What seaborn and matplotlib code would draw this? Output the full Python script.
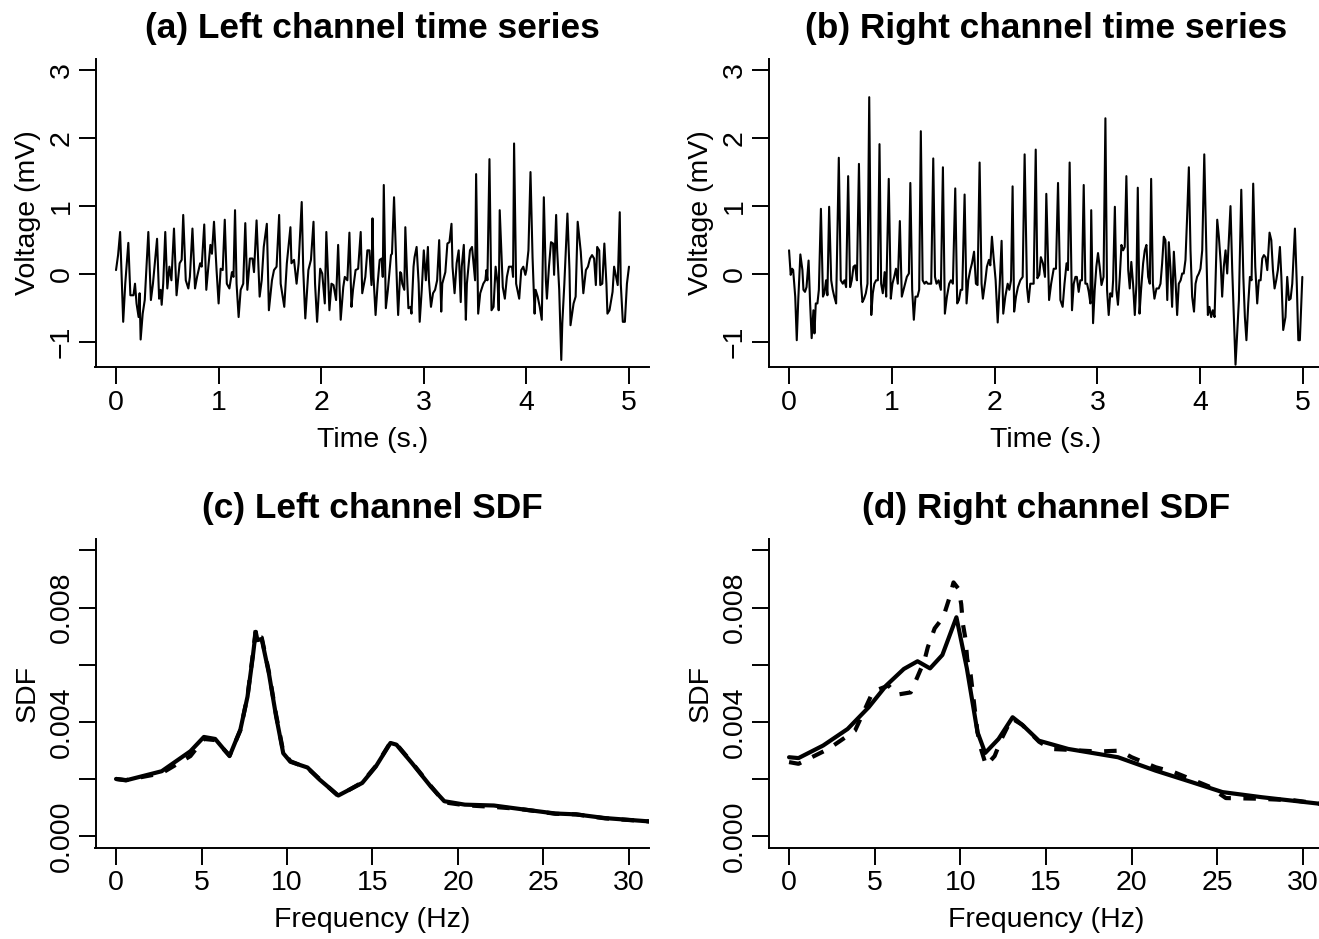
import matplotlib
matplotlib.use("Agg")
import matplotlib.pyplot as plt
import numpy as np
import pandas as pd
import seaborn as sns

# ---------------- data ----------------
# (a) left channel time series: (time s, voltage mV)
left_trace = [
    (0.00, 0.06), (0.02, 0.28), (0.04, 0.62), (0.07, -0.70), (0.09, -0.14), (0.12, 0.46),
    (0.14, -0.31), (0.17, -0.31), (0.185, -0.14), (0.20, -0.43), (0.22, -0.63), (0.23, -0.28),
    (0.24, -0.96), (0.26, -0.58), (0.28, -0.38), (0.315, 0.62), (0.34, -0.38), (0.36, -0.14),
    (0.40, 0.52), (0.42, -0.36), (0.435, -0.23), (0.445, -0.45), (0.46, -0.14), (0.48, 0.62),
    (0.50, -0.21), (0.52, 0.11), (0.54, -0.09), (0.565, 0.67), (0.59, -0.31), (0.62, 0.16),
    (0.64, 0.21), (0.655, 0.87), (0.68, -0.09), (0.705, -0.21), (0.72, -0.04), (0.745, 0.67),
    (0.77, -0.21), (0.79, -0.04), (0.82, 0.16), (0.835, 0.11), (0.86, 0.73), (0.88, -0.23),
    (0.90, 0.11), (0.92, 0.43), (0.935, 0.30), (0.955, 0.77), (0.98, 0.06), (1.00, -0.43),
    (1.02, 0.08), (1.04, 0.06), (1.06, 0.80), (1.08, -0.14), (1.105, -0.21), (1.13, 0.03),
    (1.145, -0.04), (1.16, 0.94), (1.175, -0.14), (1.195, -0.63), (1.215, -0.23), (1.24, -0.14),
    (1.26, 0.75), (1.28, -0.23), (1.305, 0.23), (1.33, 0.23), (1.345, 0.03), (1.37, 0.79),
    (1.40, -0.33), (1.42, -0.09), (1.44, 0.40), (1.47, 0.74), (1.49, -0.53), (1.52, -0.09),
    (1.54, 0.06), (1.565, 0.11), (1.59, 0.87), (1.605, -0.14), (1.625, -0.33), (1.64, -0.48),
    (1.665, 0.16), (1.70, 0.69), (1.71, 0.16), (1.735, 0.21), (1.76, -0.14), (1.78, 0.16),
    (1.81, 1.06), (1.825, 0.06), (1.845, -0.65), (1.875, 0.06), (1.90, 0.21), (1.925, 0.77),
    (1.94, -0.14), (1.96, -0.70), (1.99, 0.08), (2.01, 0.01), (2.035, -0.43), (2.05, 0.62),
    (2.08, -0.53), (2.10, -0.14), (2.12, -0.16), (2.145, -0.38), (2.165, 0.43), (2.19, -0.67),
    (2.215, -0.19), (2.23, -0.04), (2.255, -0.09), (2.275, 0.61), (2.295, -0.48), (2.31, -0.23),
    (2.335, 0.06), (2.36, 0.08), (2.385, 0.62), (2.40, -0.28), (2.43, -0.04), (2.45, 0.35),
    (2.47, 0.35), (2.49, -0.16), (2.50, 0.82), (2.51, -0.04), (2.53, -0.60), (2.55, -0.14),
    (2.57, 0.21), (2.59, 0.23), (2.60, -0.04), (2.61, 1.31), (2.63, -0.50), (2.65, -0.23),
    (2.68, 0.28), (2.69, 0.30), (2.71, 1.13), (2.74, -0.23), (2.75, -0.60), (2.77, 0.03),
    (2.78, 0.01), (2.79, -0.14), (2.81, -0.23), (2.82, 0.69), (2.84, -0.14), (2.85, -0.50),
    (2.87, -0.48), (2.88, -0.58), (2.90, 0.11), (2.91, 0.25), (2.93, 0.40), (2.95, -0.14),
    (2.96, -0.70), (2.98, -0.23), (3.00, 0.35), (3.02, -0.09), (3.04, 0.40), (3.05, -0.09),
    (3.07, -0.48), (3.09, -0.28), (3.11, -0.23), (3.13, -0.09), (3.15, 0.50), (3.17, -0.55),
    (3.18, -0.14), (3.21, 0.03), (3.23, 0.45), (3.25, 0.47), (3.27, 0.74), (3.28, 0.11),
    (3.30, -0.28), (3.32, 0.16), (3.34, 0.35), (3.36, -0.41), (3.37, 0.11), (3.39, 0.43),
    (3.41, -0.67), (3.42, -0.14), (3.45, 0.35), (3.47, 0.40), (3.50, -0.09), (3.51, 1.47),
    (3.53, -0.58), (3.55, -0.28), (3.58, -0.14), (3.60, -0.09), (3.61, 0.06), (3.62, -0.09),
    (3.64, 1.69), (3.66, -0.53), (3.68, -0.48), (3.70, 0.11), (3.72, -0.14), (3.73, -0.53),
    (3.74, 0.94), (3.77, -0.19), (3.79, -0.36), (3.81, -0.04), (3.83, 0.11), (3.86, 0.11),
    (3.87, -0.04), (3.88, 1.92), (3.90, -0.14), (3.93, -0.36), (3.95, 0.06), (3.97, 0.11),
    (3.99, -0.01), (4.00, 0.06), (4.02, 0.35), (4.04, 1.50), (4.06, 0.25), (4.08, -0.58),
    (4.09, -0.23), (4.11, -0.33), (4.13, -0.48), (4.15, -0.67), (4.17, 1.13), (4.19, -0.09),
    (4.20, -0.36), (4.22, 0.11), (4.24, 0.47), (4.26, 0.45), (4.27, -0.01), (4.29, 0.87),
    (4.30, 0.35), (4.32, -0.23), (4.34, -1.26), (4.35, -0.72), (4.37, -0.14), (4.40, 0.89),
    (4.42, 0.06), (4.43, -0.75), (4.46, -0.43), (4.48, -0.33), (4.50, 0.77), (4.53, 0.33),
    (4.555, -0.28), (4.58, 0.06), (4.60, 0.11), (4.62, 0.23), (4.64, 0.28), (4.66, 0.23),
    (4.677, -0.16), (4.69, 0.40), (4.71, 0.35), (4.72, -0.16), (4.74, -0.14), (4.76, 0.45),
    (4.78, -0.14), (4.79, -0.58), (4.81, -0.53), (4.84, -0.26), (4.855, 0.11), (4.875, -0.04),
    (4.89, -0.16), (4.91, 0.91), (4.92, -0.14), (4.94, -0.70), (4.96, -0.70), (4.98, -0.14),
    (5.00, 0.11),
]

# (b) right channel time series: (time s, voltage mV)
right_trace = [
    (0.00, 0.35), (0.016, -0.01), (0.03, 0.08), (0.04, 0.06), (0.06, -0.33), (0.075, -0.97),
    (0.09, -0.36), (0.11, 0.29), (0.13, 0.06), (0.14, -0.23), (0.155, -0.26), (0.17, -0.19),
    (0.19, 0.20), (0.205, -0.43), (0.22, -0.94), (0.237, -0.53), (0.247, -0.87), (0.26, -0.43),
    (0.276, -0.43), (0.29, -0.23), (0.31, 0.96), (0.33, -0.33), (0.344, -0.28), (0.36, -0.09),
    (0.373, -0.31), (0.39, 0.99), (0.41, -0.09), (0.425, -0.23), (0.44, -0.33), (0.458, -0.43),
    (0.484, 1.71), (0.503, -0.09), (0.523, -0.14), (0.539, -0.09), (0.555, -0.19), (0.575, 1.44),
    (0.594, -0.19), (0.61, -0.09), (0.627, 0.11), (0.643, 0.13), (0.66, -0.09), (0.68, 1.62),
    (0.70, -0.14), (0.714, -0.41), (0.73, -0.36), (0.747, -0.28), (0.763, -0.14), (0.78, 2.60),
    (0.80, -0.60), (0.815, -0.28), (0.83, -0.14), (0.847, -0.09), (0.864, -0.09), (0.88, 1.91),
    (0.896, -0.14), (0.912, -0.28), (0.93, 0.03), (0.945, -0.33), (0.97, 1.40), (0.99, -0.36),
    (1.006, -0.14), (1.023, -0.04), (1.04, 0.08), (1.058, -0.14), (1.078, 0.78), (1.097, -0.33),
    (1.114, -0.23), (1.13, -0.14), (1.146, -0.04), (1.166, 0.01), (1.18, 1.34), (1.198, -0.23),
    (1.214, -0.67), (1.23, -0.33), (1.25, -0.33), (1.266, -0.23), (1.282, 2.10), (1.30, -0.09),
    (1.318, -0.14), (1.334, -0.11), (1.35, -0.14), (1.367, -0.14), (1.383, -0.14), (1.403, 1.70),
    (1.42, -0.04), (1.435, -0.14), (1.455, -0.09), (1.477, -0.23), (1.497, 1.57), (1.516, -0.58),
    (1.536, -0.33), (1.558, -0.14), (1.575, -0.09), (1.594, -0.14), (1.617, 1.26), (1.636, -0.43),
    (1.653, -0.38), (1.67, -0.23), (1.685, -0.23), (1.708, 1.17), (1.727, -0.43), (1.744, -0.09),
    (1.763, 0.06), (1.78, 0.16), (1.80, 0.33), (1.818, -0.14), (1.834, -0.16), (1.854, 1.64),
    (1.873, -0.14), (1.886, -0.36), (1.91, -0.09), (1.925, 0.11), (1.945, 0.21), (1.958, 0.13),
    (1.974, 0.55), (1.99, 0.25), (2.01, -0.09), (2.03, -0.71), (2.05, -0.14), (2.068, 0.49),
    (2.084, -0.58), (2.104, -0.33), (2.127, -0.14), (2.143, -0.23), (2.16, -0.09), (2.175, 1.29),
    (2.19, -0.55), (2.208, -0.33), (2.227, -0.19), (2.25, -0.09), (2.273, -0.04), (2.292, 1.76),
    (2.315, -0.19), (2.33, -0.41), (2.347, -0.14), (2.364, -0.14), (2.38, -0.14), (2.40, 1.83),
    (2.416, -0.06), (2.435, -0.01), (2.45, 0.25), (2.47, 0.16), (2.49, -0.04), (2.503, 1.18),
    (2.53, -0.38), (2.55, -0.14), (2.575, 0.08), (2.597, 0.08), (2.617, 1.34), (2.64, -0.38),
    (2.662, -0.48), (2.68, -0.14), (2.70, 0.16), (2.714, 0.06), (2.73, 1.64), (2.753, -0.53),
    (2.77, -0.14), (2.786, -0.04), (2.80, -0.04), (2.818, -0.26), (2.834, -0.09), (2.85, -0.09),
    (2.867, 1.31), (2.883, -0.14), (2.90, -0.14), (2.916, -0.26), (2.932, -0.43), (2.94, 0.94),
    (2.958, -0.72), (2.974, -0.23), (2.99, 0.11), (3.006, 0.31), (3.022, 0.11), (3.04, -0.16),
    (3.06, -0.04), (3.078, 2.29), (3.094, -0.23), (3.11, -0.60), (3.126, -0.28), (3.143, -0.33),
    (3.153, -0.09), (3.17, 0.99), (3.185, -0.23), (3.20, -0.45), (3.218, -0.04), (3.234, 0.43),
    (3.25, 0.35), (3.266, 0.40), (3.282, 1.44), (3.30, 0.06), (3.315, -0.21), (3.33, 0.18),
    (3.347, -0.14), (3.364, -0.60), (3.38, -0.14), (3.393, 1.27), (3.41, -0.58), (3.425, -0.23),
    (3.445, 0.16), (3.461, 0.35), (3.477, 0.43), (3.494, -0.04), (3.51, -0.14), (3.523, 1.40),
    (3.54, -0.14), (3.555, -0.36), (3.575, -0.21), (3.597, -0.21), (3.614, -0.14), (3.63, 0.16),
    (3.646, 0.55), (3.662, 0.50), (3.68, -0.38), (3.695, 0.47), (3.71, 0.11), (3.727, -0.48),
    (3.744, 0.33), (3.76, -0.09), (3.776, -0.60), (3.792, -0.14), (3.81, -0.09), (3.825, 0.01),
    (3.84, 0.01), (3.857, 0.21), (3.873, 0.84), (3.89, 1.57), (3.906, 0.35), (3.922, -0.33),
    (3.94, -0.55), (3.955, -0.14), (3.97, -0.04), (3.987, 0.01), (4.003, 0.08), (4.02, 0.35),
    (4.04, 1.76), (4.06, 0.35), (4.075, -0.60), (4.09, -0.48), (4.107, -0.63), (4.123, -0.53),
    (4.14, -0.63), (4.166, 0.80), (4.182, 0.55), (4.20, 0.16), (4.214, -0.33), (4.23, 0.11),
    (4.247, 0.35), (4.263, 0.01), (4.28, 0.55), (4.295, 1.00), (4.312, 0.06), (4.33, -0.72),
    (4.344, -1.33), (4.36, -0.87), (4.377, -0.38), (4.40, 1.24), (4.42, -0.04), (4.435, -0.63),
    (4.45, -0.97), (4.468, -0.43), (4.484, -0.04), (4.50, -0.09), (4.516, 1.33), (4.536, 0.11),
    (4.555, -0.43), (4.571, -0.09), (4.588, -0.09), (4.604, 0.23), (4.62, 0.28), (4.636, 0.25),
    (4.653, 0.06), (4.675, 0.61), (4.692, 0.50), (4.708, 0.06), (4.724, -0.21), (4.74, -0.09),
    (4.756, 0.06), (4.776, 0.40), (4.79, -0.04), (4.808, -0.82), (4.83, -0.63), (4.847, -0.04),
    (4.864, -0.38), (4.88, -0.36), (4.896, -0.14), (4.922, 0.67), (4.94, -0.14), (4.955, -0.97),
    (4.97, -0.97), (4.994, -0.04),
]

# (c) left channel SDF: solid and dashed estimates (frequency Hz, SDF x 1e-3)
left_sdf_freq = [0, 0.58, 2.67, 4.35, 5.14, 5.8, 6.64, 7.27, 7.69, 8.0, 8.17, 8.27, 8.52,
                 8.94, 9.36, 9.78, 10.2, 11.2, 11.9, 13.0, 14.4, 15.2, 16.05, 16.4, 17.3,
                 18.4, 19.2, 20.4, 22.1, 23.6, 25.7, 26.9, 28.6, 31.25, 33.5]
left_sdf_solid = [2.00, 1.95, 2.27, 2.97, 3.47, 3.40, 2.80, 3.72, 4.88, 6.28, 7.15, 6.86, 6.90,
                  5.70, 4.20, 2.90, 2.60, 2.40, 1.98, 1.42, 1.86, 2.44, 3.26, 3.20, 2.56,
                  1.74, 1.22, 1.10, 1.07, 0.95, 0.79, 0.76, 0.63, 0.51, 0.45]
left_sdf_dashed = [2.00, 1.96, 2.20, 2.80, 3.40, 3.36, 2.82, 3.70, 4.90, 6.35, 7.22, 6.95, 6.95,
                   5.75, 4.25, 2.95, 2.62, 2.38, 2.00, 1.40, 1.88, 2.46, 3.28, 3.22, 2.58,
                   1.76, 1.18, 1.08, 1.02, 0.95, 0.78, 0.76, 0.62, 0.51, 0.45]

# (d) right channel SDF
right_solid_freq = [0, 0.55, 1.99, 3.42, 4.65, 5.67, 6.7, 7.5, 8.23, 8.95, 9.77, 10.38, 11.0,
                    11.45, 12.23, 13.05, 13.66, 14.58, 16.3, 19.2, 21.4, 23.5, 25.3, 27.6,
                    31.0, 33.5]
right_sdf_solid = [2.76, 2.73, 3.17, 3.75, 4.51, 5.27, 5.85, 6.12, 5.87, 6.34, 7.66, 5.87, 3.64,
                   2.91, 3.40, 4.16, 3.87, 3.34, 3.05, 2.76, 2.29, 1.89, 1.54, 1.36,
                   1.13, 1.05]
right_dashed_freq = [0, 0.55, 2.3, 3.85, 4.7, 4.9, 5.8, 6.3, 7.1, 7.4, 7.9, 8.1, 8.5, 9.0, 9.4,
                     9.6, 9.9, 10.05, 10.15, 10.3, 10.4, 10.6, 11.0, 11.2, 11.5, 12.0, 12.4,
                     13.0, 13.6, 14.6, 15.3, 16.0, 18.0, 19.3, 20.0, 21.4, 22.5, 24.5, 25.5,
                     27.3, 29.5, 31.0, 33.5]
right_sdf_dashed = [2.59, 2.53, 3.05, 3.69, 4.80, 5.06, 5.27, 4.95, 5.03, 5.44, 6.14, 6.61, 7.27,
                    7.66, 8.41, 8.88, 8.65, 8.12, 7.42, 6.90, 6.20, 5.65, 3.64, 3.06, 2.47,
                    2.80, 3.40, 4.12, 3.90, 3.30, 3.05, 3.03, 2.96, 2.99, 2.76, 2.41, 2.23,
                    1.74, 1.33, 1.31, 1.25, 1.13, 1.05]

titles = ["(a) Left channel time series", "(b) Right channel time series",
          "(c) Left channel SDF", "(d) Right channel SDF"]
ts_xticks = [0, 1, 2, 3, 4, 5]
ts_yticks = [-1, 0, 1, 2, 3]
ts_ylabels = ["\u22121", "0", "1", "2", "3"]
sdf_xticks = [0, 5, 10, 15, 20, 25, 30]
sdf_yticks = [0.0, 0.002, 0.004, 0.006, 0.008, 0.010]
sdf_ylabels = ["0.000", "", "0.004", "", "0.008", ""]

# ---------------- figure ----------------
sns.set_style("ticks")
plt.rcParams["font.family"] = ["Liberation Sans", "DejaVu Sans"]
plt.rcParams["text.color"] = "black"
plt.rcParams["axes.labelcolor"] = "black"
plt.rcParams["xtick.color"] = "black"
plt.rcParams["ytick.color"] = "black"
plt.rcParams["axes.edgecolor"] = "black"

W, H = 1319, 939
fig = plt.figure(figsize=(W / 100, H / 100), dpi=100)


def axpos(l, r, t, b):
    return [l / W, 1 - b / H, (r - l) / W, (b - t) / H]


ax_a = fig.add_axes(axpos(95.5, 649.5, 58.5, 367.3))
ax_b = fig.add_axes(axpos(768.5, 1323.5, 58.5, 367.3))
ax_c = fig.add_axes(axpos(95.5, 649.5, 539.0, 847.5))
ax_d = fig.add_axes(axpos(768.5, 1323.5, 539.0, 847.5))

LAB = 20.5


def style(ax, xlim, ylim, xticks, yticks, ylabels, xlabel, ylabel, title):
    ax.set_xlim(xlim)
    ax.set_ylim(ylim)
    ax.set_xticks(xticks)
    ax.set_xticklabels([str(v) for v in xticks])
    ax.set_yticks(yticks)
    ax.set_yticklabels(ylabels, rotation=90, va="center")
    ax.spines[["top", "right"]].set_visible(False)
    for s in ["left", "bottom"]:
        ax.spines[s].set_linewidth(1.4)
        ax.spines[s].set_color("black")
    ax.tick_params(length=12, width=1.4, labelsize=LAB, color="black",
                   labelcolor="black", direction="out")
    ax.tick_params(axis="x", pad=4)
    ax.tick_params(axis="y", pad=3)
    ax.set_xlabel(xlabel, fontsize=LAB, color="black")
    ax.xaxis.set_label_coords(0.5, -(440 - 367.3) / 308.8)
    ax.xaxis.label.set_va("center")
    ax.set_ylabel(ylabel, fontsize=LAB, color="black")
    ax.yaxis.set_label_coords(-(95.5 - 28) / 554, 0.5)
    ax.yaxis.label.set_va("center")
    ax.set_title(title, fontsize=25.4, fontweight="bold", y=1 + 30.5 / 308.8,
                 va="center", pad=0, color="black")


for ax, trace, title in [(ax_a, left_trace, titles[0]), (ax_b, right_trace, titles[1])]:
    df = pd.DataFrame(trace, columns=["time", "voltage"])
    sns.lineplot(data=df, x="time", y="voltage", ax=ax, color="black", lw=1.5,
                 estimator=None, errorbar=None, sort=False)
    style(ax, (-0.2, 5.2), (-1.368, 3.168), ts_xticks, ts_yticks, ts_ylabels,
          "Time (s.)", "Voltage (mV)", title)

sdf_sets = [
    (ax_c, left_sdf_freq, left_sdf_solid, left_sdf_freq, left_sdf_dashed, titles[2]),
    (ax_d, right_solid_freq, right_sdf_solid, right_dashed_freq, right_sdf_dashed, titles[3]),
]
for ax, fs, vs, fd, vd, title in sdf_sets:
    sns.lineplot(x=fs, y=np.array(vs) * 1e-3, ax=ax, color="black", lw=3,
                 estimator=None, errorbar=None, sort=False)
    sns.lineplot(x=fd, y=np.array(vd) * 1e-3, ax=ax, color="black", lw=3,
                 linestyle=(0, (3, 3)), estimator=None, errorbar=None, sort=False)
    style(ax, (-1.2, 31.2), (-0.0004, 0.0104), sdf_xticks, sdf_yticks, sdf_ylabels,
          "Frequency (Hz)", "SDF", title)

fig.savefig("out.png", dpi=100)
